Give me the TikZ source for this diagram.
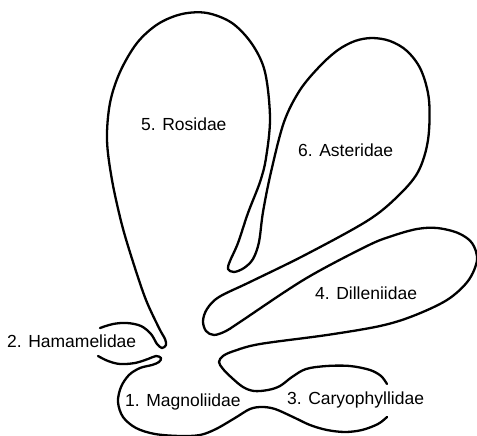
\documentclass[tikz,border=0pt]{standalone}
\usepackage{fontspec}
\setmainfont{Liberation Sans}
\begin{document}
\begin{tikzpicture}[x=1pt,y=-1pt,
  outline/.style={line width=2.3pt, line cap=round, line join=round},
  lab/.style={anchor=base west, inner sep=0pt, font=\fontsize{17.5}{20}\selectfont}]
\useasboundingbox (0,0) rectangle (477,436);
% lobes 3 (top), 4, 6, 5 and 2 (top)
\draw[outline] plot[smooth, tension=0.55] coordinates {
 (387,384) (381,376) (370,370) (350,366) (327,366) (306,369) (292,377) (280,386)
 (268,390) (254,391) (243,387) (232,378) (223,369) (219,362) (223,356) (234,351)
 (260,344) (327,335) (380,326) (413,316) (447,300) (468,281) (477,260) (472,243)
 (458,233) (437,228) (417,229) (392,236) (367,246) (305,279) (240,322) (226,331)
 (214,335) (206,331) (203,321) (207,309) (219,297) (250,282) (305,255) (367,221)
 (397,197) (418,172) (428,140) (429,100) (421,70) (407,51) (390,41) (372,38)
 (355,41) (338,50) (320,66) (300,90) (284,122) (271,172) (263,212) (259,242)
 (253,259) (244,268) (234,272) (228,269) (230,261) (238,243) (248,213) (260,182)
 (266,158) (270,118) (265,72) (252,44) (232,23) (207,13) (182,14) (158,24)
 (137,43) (120,72) (110,103) (107,140) (112,180) (122,225) (134,265) (146,300)
 (159,328) (165,339) (166,345) (162,348) (157,344) (151,334) (141,326) (127,323)
 (113,324) (100,328)};
% lobe 2 (bottom), 1 and 3 (bottom)
\draw[outline] plot[smooth, tension=0.55] coordinates {
 (98,356) (108,361) (120,364) (135,363) (148,359) (156,356) (161,358) (159,362)
 (152,365) (140,368) (129,375) (121,387) (118,402) (123,417) (136,428) (155,434)
 (180,436) (200,435) (216,429) (235,418) (250,409) (262,407) (275,409) (293,417)
 (310,425) (327,430) (345,432) (362,430) (378,424) (387,417)};
\node[lab] (mag) at (125,406) {1. Magnoliidae};
\node[lab] (ham) at (7,347) {2. Hamamelidae};
\node[lab] (car) at (287,404) {3. Caryophyllidae};
\node[lab] (dil) at (315,299) {4. Dilleniidae};
\node[lab] (ros) at (141,131) {5. Rosidae};
\node[lab] (ast) at (298,156) {6. Asteridae};
\end{tikzpicture}
\end{document}
